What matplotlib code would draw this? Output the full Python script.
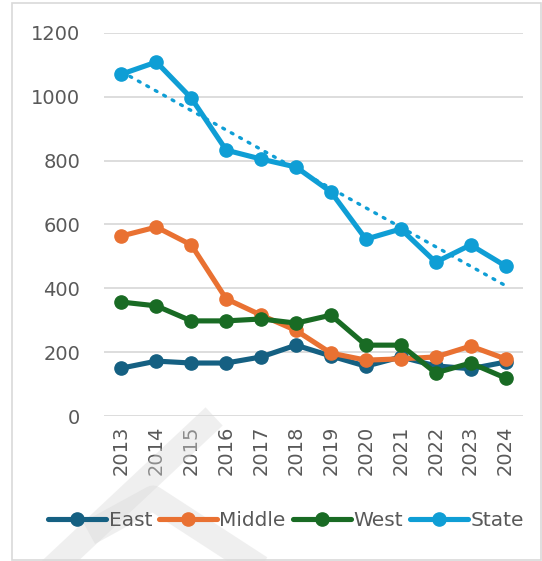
import numpy as np
import matplotlib.pyplot as plt
from matplotlib.patches import Rectangle

plt.rcParams['font.family'] = ['DejaVu Sans']

# Data
years = ['2013', '2014', '2015', '2016', '2017', '2018', '2019', '2020', '2021', '2022', '2023', '2024']
east = [150, 172, 166, 166, 185, 222, 188, 156, 185, 157, 148, 169]
middle = [564, 592, 536, 367, 316, 268, 197, 175, 179, 185, 219, 179]
west = [357, 345, 298, 298, 304, 291, 316, 222, 222, 135, 166, 119]
state = [1071, 1109, 996, 833, 805, 780, 702, 554, 586, 482, 536, 470]

names = ['East', 'Middle', 'West', 'State']
colors = ['#156082', '#E97132', '#196B24', '#0F9ED5']
series = [east, middle, west, state]

fig = plt.figure(figsize=(5.42, 5.61), dpi=100)
ax = fig.add_axes([104 / 542, 1 - 416 / 561, 419 / 542, 383 / 561])

x = np.arange(len(years))
for name, col, vals in zip(names, colors, series):
    ax.plot(x, vals, color=col, lw=3.7, marker='o', ms=9.5, label=name,
            solid_capstyle='round', solid_joinstyle='round')

# linear trendline for State
k, b = np.polyfit(x, state, 1)
ax.plot(x, k * x + b, color='#0F9ED5', lw=2.4, ls=(0, (0.6, 2.3)),
        dash_capstyle='round', zorder=3)

ax.set_xlim(-0.5, len(years) - 0.5)
ax.set_ylim(0, 1200)
ax.set_yticks(range(0, 1201, 200))
ax.set_xticks(x)
ax.set_xticklabels(years, rotation=90)
ax.grid(axis='y', color='#DADADA', lw=1.3)
ax.set_axisbelow(True)
for s in ax.spines.values():
    s.set_visible(False)
ax.tick_params(axis='both', length=0, colors='#595959', labelsize=14)
ax.tick_params(axis='y', pad=17)
ax.tick_params(axis='x', pad=7)

leg = fig.legend(loc='center', bbox_to_anchor=(286 / 542, 1 - 521 / 561), ncol=4,
                 frameon=False, fontsize=14.5, handlelength=2.9, handletextpad=0.1,
                 columnspacing=0.35)
for t in leg.get_texts():
    t.set_color('#595959')

# chart border
fig.patches.append(Rectangle((12 / 542, 0.002), 529 / 542, 1 - 3 / 561 - 0.002,
                             transform=fig.transFigure, fill=False,
                             edgecolor='#D9D9D9', lw=1.2))

# faint diagonal marks over the lower-left corner
fig.add_artist(plt.Line2D([60 / 542, 205 / 542], [0, 1 - 425 / 561],
                          transform=fig.transFigure, color='#D9D9D9', lw=18, alpha=0.4))
fig.add_artist(plt.Line2D([100 / 542, 153 / 542, 250 / 542], [1 - 527 / 561, 1 - 498 / 561, 0],
                          transform=fig.transFigure, color='#D9D9D9', lw=18, alpha=0.4))

fig.savefig('out.png', dpi=100)
